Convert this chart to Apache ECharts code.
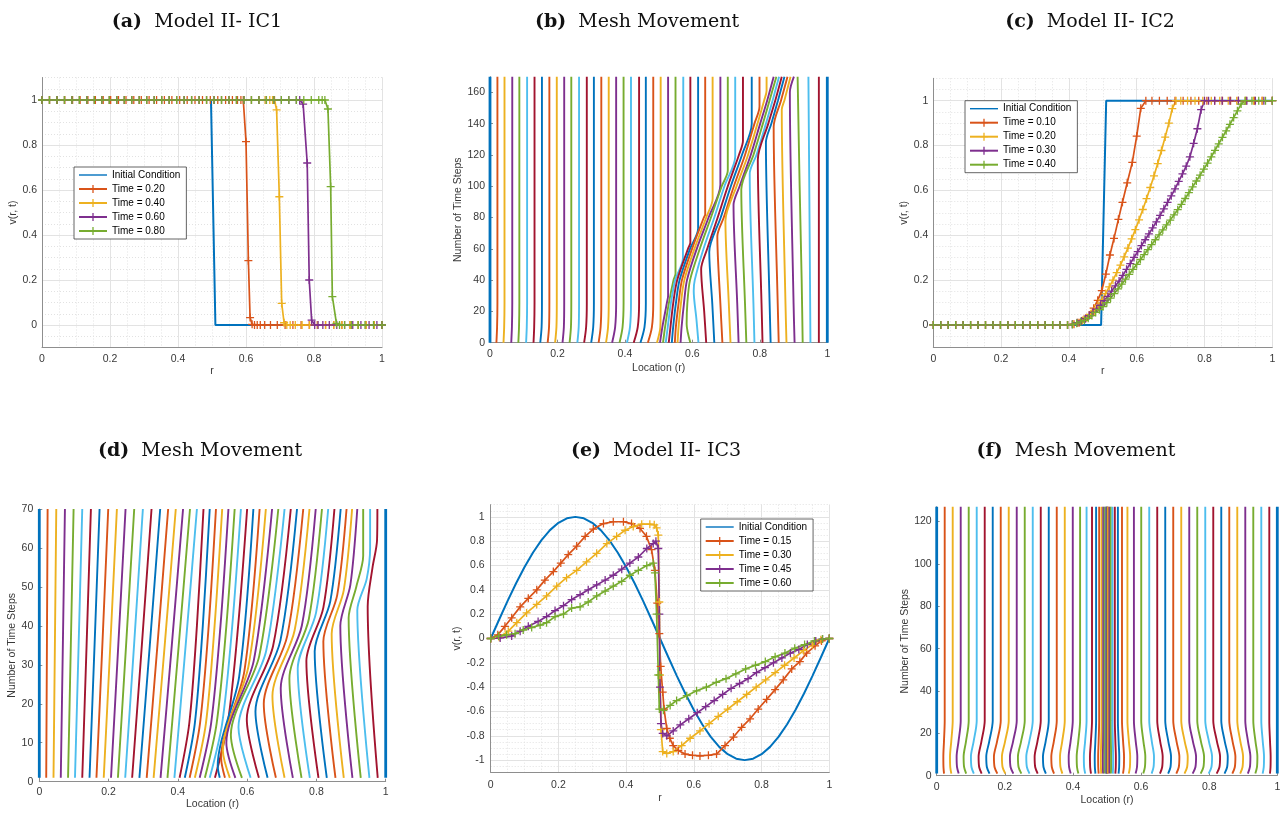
<!DOCTYPE html>
<html><head><meta charset="utf-8">
<script src="https://cdn.jsdelivr.net/npm/echarts@6/dist/echarts.min.js"></script>
<style>html,body{margin:0;padding:0;background:#fff}#c{width:1285px;height:814px}</style>
</head><body><div id="c"></div>
<script>
// ---------------- DATA ----------------
const titles = ['(a)|Model II- IC1','(b)|Mesh Movement','(c)|Model II- IC2','(d)|Mesh Movement','(e)|Model II- IC3','(f)|Mesh Movement'];
const rTicks = [0,0.2,0.4,0.6,0.8,1];

// (a) Model II - IC1
const aIcX = [0,0.497,0.51,1];
const aIcY = [1,1,0,0];
const aT20X = [0,0.022,0.045,0.067,0.09,0.112,0.135,0.157,0.18,0.202,0.225,0.247,0.27,0.292,0.315,0.337,0.36,0.382,0.405,0.427,0.45,0.472,0.495,0.517,0.54,0.56,0.575,0.585,0.592,0.6,0.607,0.612,0.618,0.625,0.633,0.642,0.655,0.672,0.692,0.715,0.738,0.762,0.786,0.81,0.834,0.858,0.882,0.906,0.93,0.953,0.977,1];
const aT20Y = [1,1,1,1,1,1,1,1,1,1,1,1,1,1,1,1,1,1,1,1,1,1,1,1,1,1,1,1,1,0.815,0.286,0.033,0.003,0,0,0,0,0,0,0,0,0,0,0,0,0,0,0,0,0,0,0];
const aT40X = [0,0.022,0.044,0.066,0.088,0.11,0.132,0.154,0.176,0.198,0.22,0.242,0.264,0.286,0.308,0.33,0.352,0.374,0.396,0.418,0.44,0.462,0.484,0.506,0.528,0.55,0.572,0.594,0.616,0.638,0.656,0.67,0.678,0.684,0.69,0.698,0.705,0.712,0.72,0.73,0.745,0.765,0.787,0.81,0.834,0.858,0.882,0.906,0.93,0.953,0.977,1];
const aT40Y = [1,1,1,1,1,1,1,1,1,1,1,1,1,1,1,1,1,1,1,1,1,1,1,1,1,1,1,1,1,1,1,1,1,1,0.956,0.57,0.096,0.01,0,0,0,0,0,0,0,0,0,0,0,0,0,0];
const aT60X = [0,0.022,0.044,0.066,0.088,0.11,0.132,0.154,0.176,0.198,0.22,0.242,0.264,0.286,0.308,0.33,0.352,0.374,0.396,0.418,0.44,0.462,0.484,0.506,0.528,0.55,0.572,0.594,0.616,0.638,0.66,0.682,0.704,0.726,0.748,0.758,0.768,0.78,0.786,0.793,0.802,0.812,0.826,0.845,0.867,0.89,0.914,0.938,0.962,0.985,1];
const aT60Y = [1,1,1,1,1,1,1,1,1,1,1,1,1,1,1,1,1,1,1,1,1,1,1,1,1,1,1,1,1,1,1,1,1,1,1,1,0.982,0.72,0.2,0.022,0,0,0,0,0,0,0,0,0,0,0];
const aT80X = [0,0.022,0.044,0.066,0.088,0.11,0.132,0.154,0.176,0.198,0.22,0.242,0.264,0.286,0.308,0.33,0.352,0.374,0.396,0.418,0.44,0.462,0.484,0.506,0.528,0.55,0.572,0.594,0.616,0.638,0.66,0.682,0.704,0.726,0.748,0.77,0.792,0.814,0.824,0.832,0.841,0.849,0.854,0.866,0.875,0.89,0.91,0.93,0.95,0.975,1];
const aT80Y = [1,1,1,1,1,1,1,1,1,1,1,1,1,1,1,1,1,1,1,1,1,1,1,1,1,1,1,1,1,1,1,1,1,1,1,1,1,1,1,1,0.96,0.615,0.126,0.007,0,0,0,0,0,0,0];

// (c) Model II - IC2
const cFlatX = [0,0.022,0.044,0.066,0.088,0.11,0.132,0.154,0.176,0.198,0.22,0.242,0.264,0.286,0.308,0.33,0.352,0.374,0.396];
const cFlatY = [0,0,0,0,0,0,0,0,0,0,0,0,0,0,0,0,0,0,0];
const cIcX = [0,0.495,0.51,1];
const cIcY = [0,0,1,1];
const cT10X = [0.415,0.43,0.445,0.46,0.473,0.485,0.497,0.509,0.521,0.533,0.546,0.558,0.572,0.587,0.6,0.612,0.627,0.645,0.667,0.69,0.713,0.737,0.76,0.783,0.807,0.83,0.853,0.877,0.9,0.923,0.947,0.97,1];
const cT10Y = [0.003,0.01,0.025,0.045,0.075,0.11,0.153,0.227,0.312,0.386,0.471,0.547,0.634,0.725,0.842,0.966,1,1,1,1,1,1,1,1,1,1,1,1,1,1,1,1,1];
const cT20X = [0.412,0.426,0.44,0.452,0.464,0.475,0.486,0.497,0.508,0.519,0.53,0.541,0.552,0.563,0.574,0.585,0.596,0.607,0.618,0.629,0.64,0.651,0.662,0.673,0.684,0.695,0.705,0.716,0.73,0.75,0.772,0.795,0.82,0.845,0.87,0.895,0.92,0.945,0.97,1];
const cT20Y = [0.004,0.01,0.02,0.032,0.047,0.065,0.087,0.112,0.14,0.17,0.2,0.233,0.267,0.304,0.343,0.384,0.425,0.469,0.515,0.563,0.613,0.665,0.72,0.778,0.838,0.9,0.965,1,1,1,1,1,1,1,1,1,1,1,1,1];
const cT30X = [0.41,0.424,0.437,0.449,0.46,0.471,0.482,0.493,0.504,0.515,0.526,0.537,0.548,0.559,0.57,0.581,0.592,0.603,0.614,0.625,0.636,0.647,0.658,0.669,0.68,0.691,0.702,0.713,0.724,0.735,0.746,0.757,0.768,0.779,0.79,0.8,0.812,0.83,0.852,0.875,0.9,0.925,0.95,0.975,1];
const cT30Y = [0.003,0.01,0.018,0.028,0.042,0.056,0.071,0.088,0.108,0.128,0.151,0.174,0.196,0.221,0.248,0.274,0.301,0.327,0.354,0.38,0.406,0.433,0.46,0.489,0.518,0.547,0.576,0.607,0.64,0.674,0.708,0.75,0.81,0.875,0.96,1,1,1,1,1,1,1,1,1,1];
const cT40X = [0.41,0.423,0.435,0.446,0.457,0.468,0.479,0.49,0.501,0.512,0.523,0.534,0.545,0.556,0.567,0.578,0.589,0.6,0.611,0.622,0.633,0.644,0.655,0.666,0.677,0.688,0.699,0.71,0.721,0.732,0.743,0.754,0.765,0.776,0.787,0.798,0.809,0.82,0.831,0.842,0.853,0.864,0.875,0.886,0.897,0.908,0.92,0.94,0.96,0.98,1];
const cT40Y = [0.002,0.008,0.014,0.021,0.03,0.042,0.056,0.068,0.082,0.1,0.12,0.14,0.161,0.182,0.204,0.226,0.248,0.27,0.292,0.314,0.336,0.358,0.38,0.402,0.424,0.446,0.468,0.491,0.514,0.538,0.564,0.59,0.616,0.642,0.668,0.695,0.722,0.75,0.779,0.808,0.837,0.866,0.895,0.925,0.955,0.985,1,1,1,1,1];

// (e) Model II - IC3
const eIcX = [0,0.025,0.05,0.075,0.1,0.125,0.15,0.175,0.2,0.225,0.25,0.275,0.3,0.325,0.35,0.375,0.4,0.425,0.45,0.475,0.5,0.525,0.55,0.575,0.6,0.625,0.65,0.675,0.7,0.725,0.75,0.775,0.8,0.825,0.85,0.875,0.9,0.925,0.95,0.975,1];
const eIcY = [0,0.156,0.309,0.454,0.588,0.707,0.809,0.891,0.951,0.988,1,0.988,0.951,0.891,0.809,0.707,0.588,0.454,0.309,0.156,0,-0.156,-0.309,-0.454,-0.588,-0.707,-0.809,-0.891,-0.951,-0.988,-1,-0.988,-0.951,-0.891,-0.809,-0.707,-0.588,-0.454,-0.309,-0.156,0];
const eT15X = [0,0.021,0.042,0.062,0.087,0.111,0.136,0.16,0.185,0.207,0.229,0.254,0.279,0.303,0.333,0.362,0.392,0.416,0.441,0.46,0.475,0.485,0.492,0.498,0.502,0.508,0.512,0.52,0.529,0.539,0.554,0.574,0.596,0.618,0.643,0.667,0.692,0.717,0.741,0.766,0.79,0.815,0.84,0.864,0.889,0.913,0.933,0.958,0.977,1];
const eT15Y = [0,0.03,0.1,0.17,0.26,0.33,0.4,0.48,0.55,0.62,0.69,0.76,0.84,0.9,0.945,0.96,0.96,0.945,0.905,0.84,0.73,0.56,0.29,0.04,-0.23,-0.44,-0.58,-0.74,-0.82,-0.88,-0.92,-0.95,-0.96,-0.965,-0.96,-0.95,-0.88,-0.81,-0.73,-0.66,-0.58,-0.5,-0.42,-0.34,-0.25,-0.19,-0.12,-0.06,-0.02,0];
const eT30X = [0,0.025,0.052,0.077,0.106,0.136,0.165,0.195,0.224,0.254,0.283,0.313,0.343,0.372,0.397,0.421,0.446,0.47,0.483,0.49,0.495,0.498,0.5,0.503,0.508,0.52,0.539,0.564,0.589,0.618,0.645,0.672,0.7,0.728,0.756,0.784,0.812,0.84,0.868,0.896,0.924,0.95,0.975,1];
const eT30Y = [0,0.01,0.06,0.13,0.21,0.28,0.35,0.43,0.5,0.56,0.63,0.7,0.78,0.84,0.89,0.92,0.94,0.94,0.935,0.91,0.85,0.3,-0.3,-0.75,-0.93,-0.945,-0.93,-0.88,-0.82,-0.76,-0.7,-0.64,-0.58,-0.52,-0.46,-0.4,-0.34,-0.28,-0.22,-0.16,-0.1,-0.05,-0.01,0];
const eT45X = [0,0.028,0.062,0.087,0.111,0.14,0.165,0.19,0.215,0.239,0.264,0.288,0.313,0.338,0.362,0.387,0.411,0.436,0.461,0.48,0.488,0.495,0.498,0.5,0.503,0.508,0.52,0.539,0.56,0.585,0.61,0.635,0.66,0.685,0.71,0.735,0.76,0.785,0.81,0.835,0.86,0.885,0.91,0.935,0.96,0.98,1];
const eT45Y = [0,0.005,0.02,0.06,0.1,0.14,0.18,0.23,0.27,0.32,0.36,0.4,0.44,0.48,0.52,0.57,0.62,0.67,0.74,0.78,0.8,0.74,0.2,-0.4,-0.7,-0.78,-0.8,-0.76,-0.71,-0.66,-0.61,-0.56,-0.51,-0.46,-0.41,-0.37,-0.33,-0.28,-0.24,-0.2,-0.16,-0.12,-0.09,-0.05,-0.02,-0.005,0];
const eT60X = [0,0.023,0.047,0.072,0.096,0.121,0.146,0.165,0.19,0.215,0.239,0.264,0.288,0.313,0.338,0.362,0.387,0.411,0.436,0.461,0.48,0.485,0.49,0.495,0.498,0.51,0.53,0.549,0.579,0.608,0.637,0.666,0.695,0.724,0.753,0.782,0.811,0.84,0.869,0.898,0.927,0.956,0.98,1];
const eT60Y = [0,0.02,0.03,0.04,0.07,0.09,0.11,0.13,0.18,0.2,0.25,0.26,0.3,0.35,0.39,0.43,0.47,0.52,0.56,0.6,0.62,0.54,0.2,-0.3,-0.58,-0.59,-0.55,-0.51,-0.47,-0.43,-0.4,-0.36,-0.33,-0.29,-0.25,-0.22,-0.19,-0.15,-0.12,-0.08,-0.05,-0.02,-0.005,0];

// (b) mesh for IC1: each line = list of [location r, time step]
const meshB = [
[[0,0],[0,170]],
[[0.019,0],[0.021,10],[0.022,25],[0.022,170]],
[[0.040,0],[0.042,10],[0.043,25],[0.043,170]],
[[0.063,0],[0.065,10],[0.066,25],[0.066,170]],
[[0.084,0],[0.086,10],[0.087,25],[0.087,170]],
[[0.107,0],[0.109,10],[0.110,25],[0.110,170]],
[[0.129,0],[0.131,10],[0.132,25],[0.132,170]],
[[0.149,0],[0.153,10],[0.154,25],[0.154,170]],
[[0.171,0],[0.175,10],[0.176,25],[0.176,170]],
[[0.193,0],[0.197,10],[0.198,25],[0.198,170]],
[[0.215,0],[0.219,10],[0.220,25],[0.220,170]],
[[0.236,0],[0.240,10],[0.241,25],[0.241,170]],
[[0.259,0],[0.263,10],[0.264,25],[0.264,170]],
[[0.279,0],[0.285,10],[0.287,25],[0.287,170]],
[[0.300,0],[0.306,10],[0.308,25],[0.308,170]],
[[0.322,0],[0.328,10],[0.330,25],[0.330,170]],
[[0.344,0],[0.350,10],[0.352,25],[0.352,170]],
[[0.362,0],[0.371,10],[0.374,25],[0.374,170]],
[[0.384,0],[0.393,10],[0.396,25],[0.396,170]],
[[0.406,0],[0.415,10],[0.418,25],[0.418,170]],
[[0.426,0],[0.438,10],[0.442,25],[0.442,170]],
[[0.446,0],[0.458,10],[0.462,25],[0.462,170]],
[[0.468,0],[0.480,10],[0.484,25],[0.484,170]],
[[0.495,0],[0.505,10],[0.506,25],[0.506,170]],
[[0.504,0],[0.511,10],[0.524,25],[0.528,30],[0.528,170]],
[[0.513,0],[0.519,10],[0.530,25],[0.544,40],[0.550,44],[0.550,170]],
[[0.521,0],[0.527,10],[0.536,25],[0.549,40],[0.572,54],[0.573,170]],
[[0.530,0],[0.535,10],[0.543,25],[0.555,40],[0.587,60],[0.594,64],[0.594,170]],
[[0.539,0],[0.543,10],[0.551,25],[0.562,40],[0.593,60],[0.617,73],[0.617,170]],
[[0.548,0],[0.551,10],[0.559,25],[0.569,40],[0.599,60],[0.634,80],[0.638,82],[0.638,170]],
[[0.556,0],[0.559,10],[0.566,25],[0.576,40],[0.606,60],[0.641,80],[0.660,92],[0.660,170]],
[[0.565,0],[0.568,10],[0.575,25],[0.584,40],[0.613,60],[0.648,80],[0.683,101],[0.683,170]],
[[0.594,0],[0.583,12],[0.585,25],[0.593,40],[0.622,60],[0.655,80],[0.687,100],[0.705,110],[0.705,170]],
[[0.618,0],[0.612,15],[0.604,33],[0.607,40],[0.633,60],[0.665,80],[0.695,100],[0.727,119],[0.727,170]],
[[0.641,0],[0.635,20],[0.626,47],[0.644,60],[0.675,80],[0.705,100],[0.738,120],[0.750,129],[0.750,170]],
[[0.665,0],[0.659,25],[0.650,58],[0.684,80],[0.714,100],[0.747,120],[0.776,140],[0.776,170]],
[[0.689,0],[0.683,25],[0.674,68],[0.693,80],[0.723,100],[0.756,120],[0.784,140],[0.799,151],[0.799,170]],
[[0.713,0],[0.708,25],[0.698,78],[0.731,100],[0.765,120],[0.793,140],[0.813,155],[0.820,161],[0.820,170]],
[[0.737,0],[0.733,25],[0.722,88],[0.740,100],[0.773,120],[0.801,140],[0.822,155],[0.841,170]],
[[0.760,0],[0.756,25],[0.745,98],[0.781,120],[0.809,140],[0.829,155],[0.849,170]],
[[0.784,0],[0.781,25],[0.770,108],[0.790,120],[0.818,140],[0.838,155],[0.857,170]],
[[0.808,0],[0.805,25],[0.794,117],[0.825,140],[0.846,155],[0.865,170]],
[[0.832,0],[0.829,25],[0.818,128],[0.834,140],[0.854,155],[0.873,170]],
[[0.856,0],[0.853,25],[0.841,138],[0.863,155],[0.882,170]],
[[0.879,0],[0.876,25],[0.865,149],[0.873,155],[0.891,170]],
[[0.903,0],[0.900,25],[0.889,160],[0.901,170]],
[[0.927,0],[0.924,40],[0.918,100],[0.912,170]],
[[0.950,0],[0.948,60],[0.944,170]],
[[0.975,0],[0.975,170]],
[[1,0],[1,170]]
];

// (d) mesh for IC2
const meshD = [
[[0,1],[0,70]],
[[0.02,1],[0.022,35],[0.024,70]],
[[0.041,1],[0.045,35],[0.049,70]],
[[0.062,1],[0.068,35],[0.074,70]],
[[0.083,1],[0.091,35],[0.099,70]],
[[0.103,1],[0.1135,35],[0.124,70]],
[[0.124,1],[0.1365,35],[0.149,70]],
[[0.145,1],[0.1595,35],[0.174,70]],
[[0.165,1],[0.182,35],[0.199,70]],
[[0.186,1],[0.205,35],[0.224,70]],
[[0.207,1],[0.228,35],[0.249,70]],
[[0.227,1],[0.2505,35],[0.274,70]],
[[0.248,1],[0.2735,35],[0.299,70]],
[[0.268,1],[0.296,35],[0.324,70]],
[[0.289,1],[0.319,35],[0.349,70]],
[[0.31,1],[0.341,35],[0.372,70]],
[[0.33,1],[0.362,35],[0.394,70]],
[[0.35,1],[0.3825,35],[0.415,70]],
[[0.37,1],[0.4025,35],[0.435,70]],
[[0.39,1],[0.4225,35],[0.455,70]],
[[0.405,1],[0.433,15],[0.455,40],[0.474,70]],
[[0.42,1],[0.449,15],[0.472,40],[0.492,70]],
[[0.434,1],[0.464,15],[0.489,40],[0.51,70]],
[[0.449,1],[0.481,15],[0.506,40],[0.528,70]],
[[0.463,1],[0.496,15],[0.523,40],[0.546,70]],
[[0.478,1],[0.512,15],[0.54,40],[0.564,70]],
[[0.492,1],[0.528,15],[0.557,40],[0.582,70]],
[[0.507,1],[0.544,15],[0.574,40],[0.6,70]],
[[0.521,1],[0.515,4],[0.577,27],[0.618,70]],
[[0.536,1],[0.525,6],[0.592,28.4],[0.636,70]],
[[0.55,1],[0.53,8],[0.604,29.7],[0.654,70]],
[[0.566,1],[0.54,10],[0.619,31],[0.672,70]],
[[0.585,1],[0.553,12],[0.635,32.3],[0.69,70]],
[[0.61,1],[0.575,14],[0.655,33.6],[0.708,70]],
[[0.634,1],[0.599,16],[0.675,34.9],[0.726,70]],
[[0.659,1],[0.624,18],[0.696,36.2],[0.744,70]],
[[0.683,1],[0.648,20],[0.716,37.5],[0.762,70]],
[[0.708,1],[0.673,22],[0.737,38.8],[0.78,70]],
[[0.732,1],[0.697,24],[0.758,40.1],[0.798,70]],
[[0.757,1],[0.722,26.5],[0.778,41.7],[0.816,70]],
[[0.781,1],[0.746,29],[0.799,43.4],[0.834,70]],
[[0.806,1],[0.771,31],[0.82,44.7],[0.852,70]],
[[0.83,1],[0.795,33.5],[0.84,46.3],[0.87,70]],
[[0.855,1],[0.82,36],[0.86,47.9],[0.887,70]],
[[0.879,1],[0.844,38],[0.879,49.2],[0.903,70]],
[[0.904,1],[0.869,40],[0.898,50.5],[0.918,70]],
[[0.928,1],[0.893,42],[0.915,50],[0.935,58],[0.935,70]],
[[0.953,1],[0.918,44],[0.945,52],[0.955,60],[0.955,70]],
[[0.977,1],[0.948,45],[0.962,55],[0.975,62],[0.976,70]],
[[1,1],[1,70]]
];

// (f) mesh for IC3: location of each line at these time steps
const meshFSteps = [1,4,9,16,26,127];
const meshF = [
[0,0,0,0,0,0],
[0.0215,0.0199,0.0195,0.0213,0.0235,0.0235],
[0.043,0.0398,0.039,0.0426,0.047,0.047],
[0.0645,0.0597,0.0585,0.0639,0.0705,0.0705],
[0.0865,0.0805,0.079,0.0858,0.094,0.094],
[0.109,0.1022,0.1005,0.1082,0.1175,0.1175],
[0.132,0.1248,0.123,0.1311,0.141,0.141],
[0.155,0.1474,0.1455,0.154,0.1645,0.1645],
[0.178,0.170,0.168,0.177,0.188,0.188],
[0.2015,0.1935,0.1915,0.2005,0.2115,0.2115],
[0.225,0.217,0.215,0.224,0.235,0.235],
[0.2485,0.2405,0.2385,0.2475,0.2585,0.2585],
[0.2725,0.2649,0.263,0.2716,0.282,0.282],
[0.2965,0.2893,0.2875,0.2956,0.3055,0.3055],
[0.3205,0.3137,0.312,0.3197,0.329,0.329],
[0.3445,0.3381,0.3365,0.3437,0.3525,0.3525],
[0.369,0.3634,0.362,0.3683,0.376,0.376],
[0.3935,0.3887,0.3875,0.3929,0.3995,0.3995],
[0.416,0.412,0.411,0.4155,0.421,0.421],
[0.436,0.4328,0.432,0.4356,0.44,0.44],
[0.453,0.4506,0.45,0.4527,0.456,0.456],
[0.466,0.4644,0.464,0.4658,0.468,0.468],
[0.4755,0.4743,0.474,0.4754,0.477,0.477],
[0.483,0.4822,0.482,0.4829,0.484,0.484],
[0.4885,0.4881,0.488,0.4885,0.489,0.489],
[0.493,0.493,0.493,0.493,0.493,0.493],
[0.4965,0.4965,0.4965,0.4965,0.4965,0.4965],
[0.4985,0.4985,0.4985,0.4985,0.4985,0.4985],
[0.5,0.5,0.5,0.5,0.5,0.5],
[0.5015,0.5015,0.5015,0.5015,0.5015,0.5015],
[0.5035,0.5035,0.5035,0.5035,0.5035,0.5035],
[0.507,0.507,0.507,0.507,0.507,0.507],
[0.5115,0.5119,0.512,0.5115,0.511,0.511],
[0.517,0.5178,0.518,0.5171,0.516,0.516],
[0.5245,0.5257,0.526,0.5246,0.523,0.523],
[0.534,0.5356,0.536,0.5342,0.532,0.532],
[0.547,0.5494,0.55,0.5473,0.544,0.544],
[0.564,0.5672,0.568,0.5644,0.56,0.56],
[0.584,0.588,0.589,0.5845,0.579,0.579],
[0.6065,0.6113,0.6125,0.6071,0.6005,0.6005],
[0.631,0.6366,0.638,0.6317,0.624,0.624],
[0.6555,0.6619,0.6635,0.6563,0.6475,0.6475],
[0.6795,0.6863,0.688,0.6803,0.671,0.671],
[0.7035,0.7107,0.7125,0.7044,0.6945,0.6945],
[0.7275,0.7351,0.737,0.7284,0.718,0.718],
[0.7515,0.7595,0.7615,0.7525,0.7415,0.7415],
[0.775,0.783,0.785,0.776,0.765,0.765],
[0.7985,0.8065,0.8085,0.7995,0.7885,0.7885],
[0.822,0.830,0.832,0.823,0.812,0.812],
[0.845,0.8526,0.8545,0.846,0.8355,0.8355],
[0.868,0.8752,0.877,0.8689,0.859,0.859],
[0.891,0.8978,0.8995,0.8918,0.8825,0.8825],
[0.9135,0.9195,0.921,0.9142,0.906,0.906],
[0.9355,0.9403,0.9415,0.9361,0.9295,0.9295],
[0.957,0.9602,0.961,0.9574,0.953,0.953],
[0.9785,0.9801,0.9805,0.9787,0.9765,0.9765],
[1,1,1,1,1,1]
];

// ---------------- STYLE / BUILD ----------------
const PALETTE = ['#0072BD','#D95319','#EDB120','#7E2F8E','#77AC30','#4DBEEE','#A2142F'];
const PLUS = 'path://M4.2,0H5.8V4.2H10V5.8H5.8V10H4.2V5.8H0V4.2H4.2Z';
const LINEICON = 'path://M0,0L0,0M0,4.25L30,4.25L30,5.75L0,5.75ZM30,10L30,10';
const FONT = '"Liberation Sans", Arial, sans-serif';
const TFONT = '"DejaVu Serif", serif';
const AX = '#8e8e8e', LBL = '#383838', MAJOR = '#e3e3e3', MINOR = '#e2e2e2', TR = 'rgba(0,0,0,0)';

const option = {animation:false, backgroundColor:'#ffffff', title:[], grid:[], xAxis:[], yAxis:[], legend:[], series:[]};

function fmt02(v){
  const r = Math.round(v*1000)/1000; const q = r/0.2;
  return Math.abs(q - Math.round(q)) < 1e-6 ? String(Math.round(r*10)/10) : '';
}
function nameStyle(){ return {color:LBL, fontSize:10.5, fontFamily:FONT}; }
function labelStyle(m){ return {color:LBL, fontSize:10.5, fontFamily:FONT, margin:m}; }

function addTitle(i, cx, top){
  const parts = titles[i].split('|');
  option.title.push({text:'{b|'+parts[0]+'}  '+parts[1], left:cx, top:top, textAlign:'center', padding:0,
    textStyle:{fontFamily:TFONT, fontSize:19, fontWeight:'normal', color:'#111',
      rich:{b:{fontFamily:TFONT, fontSize:19, fontWeight:'bold', color:'#111'}}}});
}

function fnPanel(rect, yMin, yMax, g){
  const gi = option.grid.push({left:rect[0], top:rect[1], width:rect[2], height:rect[3]}) - 1;
  const xi = option.xAxis.length, yi = option.yAxis.length;
  option.xAxis.push({type:'value', gridIndex:gi, min:rTicks[0], max:rTicks[rTicks.length-1], interval:0.2, position:'bottom',
    axisLine:{show:true, onZero:false, lineStyle:{color:AX, width:1}}, axisTick:{show:false},
    axisLabel:labelStyle(g.xm), splitLine:{show:true, lineStyle:{color:MAJOR, width:1}},
    name:'r', nameLocation:'middle', nameGap:g.xn, nameTextStyle:nameStyle()});
  option.xAxis.push({type:'value', gridIndex:gi, min:0, max:1, interval:0.05, position:'top',
    axisLine:{show:false}, axisTick:{show:false}, axisLabel:{show:false},
    splitLine:{show:true, lineStyle:{color:MINOR, width:1, type:[1,2]}}});
  option.yAxis.push({type:'value', gridIndex:gi, min:yMin, max:yMax, interval:0.05, position:'left',
    axisLine:{show:true, onZero:false, lineStyle:{color:AX, width:1}}, axisTick:{show:false},
    axisLabel:Object.assign(labelStyle(g.ym), {formatter:fmt02}),
    splitLine:{show:true, showMinLine:true, showMaxLine:true, lineStyle:{color:[TR,TR,MAJOR,TR], width:1}},
    name:'v(r, t)', nameLocation:'middle', nameGap:g.yn, nameTextStyle:nameStyle()});
  option.yAxis.push({type:'value', gridIndex:gi, min:yMin, max:yMax, interval:0.05, position:'right',
    axisLine:{show:false}, axisTick:{show:false}, axisLabel:{show:false},
    splitLine:{show:true, showMinLine:true, showMaxLine:true, lineStyle:{color:MINOR, width:1, type:[1,2]}}});
  return {xi, yi};
}

function meshPanel(rect, yMax, yInt, showMax, g){
  const gi = option.grid.push({left:rect[0], top:rect[1], width:rect[2], height:rect[3]}) - 1;
  const xi = option.xAxis.length, yi = option.yAxis.length;
  option.xAxis.push({type:'value', gridIndex:gi, min:0, max:1, interval:0.2, position:'bottom',
    axisLine:{show:true, onZero:false, lineStyle:{color:AX, width:1}},
    axisTick:{show:true, inside:true, length:3, lineStyle:{color:AX}},
    axisLabel:labelStyle(g.xm), splitLine:{show:false},
    name:'Location (r)', nameLocation:'middle', nameGap:g.xn, nameTextStyle:nameStyle()});
  option.yAxis.push({type:'value', gridIndex:gi, min:0, max:yMax, interval:yInt, position:'left',
    axisLine:{show:true, onZero:false, lineStyle:{color:AX, width:1}},
    axisTick:{show:true, inside:true, length:3, lineStyle:{color:AX}},
    axisLabel:Object.assign(labelStyle(g.ym), {showMaxLabel:showMax}), splitLine:{show:false},
    name:'Number of Time Steps', nameLocation:'middle', nameGap:g.yn, nameTextStyle:nameStyle()});
  return {xi, yi};
}

function addMesh(lines, ax){
  lines.forEach(function(pts, k){
    const edge = (k === 0 || k === lines.length - 1);
    option.series.push({type:'line', xAxisIndex:ax.xi, yAxisIndex:ax.yi, data:pts, symbol:'none', showSymbol:false,
      smooth:0.3, clip:false, silent:true, emphasis:{disabled:true},
      lineStyle:{color:PALETTE[k%7], width: edge ? 2.8 : 1.9}, itemStyle:{color:PALETTE[k%7]}});
  });
}

function addCurve(name, xs, ys, colorIdx, markers, ax){
  const color = PALETTE[colorIdx];
  option.series.push({type:'line', name:name, xAxisIndex:ax.xi, yAxisIndex:ax.yi,
    data: xs.map(function(x,i){ return [x, ys[i]]; }),
    symbol: markers ? PLUS : 'none', symbolSize:8, showSymbol:markers, showAllSymbol:true, symbolKeepAspect:true,
    clip:false, silent:true, emphasis:{disabled:true},
    lineStyle:{color:color, width: markers ? 1.7 : 2}, itemStyle:{color:color, borderWidth:0}});
}

function addLegend(left, top, names){
  option.legend.push({orient:'vertical', left:left, top:top, selectedMode:false,
    itemWidth:28, itemHeight:10, itemGap:4, padding:[3,6,3,4],
    backgroundColor:'#ffffff', borderColor:'#3c3c3c', borderWidth:0.8, borderRadius:0,
    textStyle:{color:'#000', fontSize:10, fontFamily:FONT}, formatter:function(n){ return n.slice(2); },
    data: names.map(function(n, i){ return i === 0 ? {name:n, icon:LINEICON} : {name:n}; })});
}

// titles
addTitle(0, 197, 13); addTitle(1, 637, 13); addTitle(2, 1090, 13);
addTitle(3, 200, 442); addTitle(4, 656, 442); addTitle(5, 1076, 442);

// (a)
const axA = fnPanel([42, 77.5, 340, 270], -0.1, 1.1, {xm:6, xn:18, ym:5, yn:22});
addCurve('a|Initial Condition', aIcX, aIcY, 0, false, axA);
addCurve('a|Time = 0.20', aT20X, aT20Y, 1, true, axA);
addCurve('a|Time = 0.40', aT40X, aT40Y, 2, true, axA);
addCurve('a|Time = 0.60', aT60X, aT60Y, 3, true, axA);
addCurve('a|Time = 0.80', aT80X, aT80Y, 4, true, axA);
addLegend(74, 167, ['a|Initial Condition','a|Time = 0.20','a|Time = 0.40','a|Time = 0.60','a|Time = 0.80']);

// (b)
const axB = meshPanel([490, 76.7, 337.3, 266], 170, 20, false, {xm:6, xn:20, ym:5, yn:25});
addMesh(meshB, axB);

// (c)
const axC = fnPanel([933.3, 78.3, 339, 269.1], -0.1, 1.1, {xm:6, xn:18, ym:5, yn:23});
addCurve('c|Initial Condition', cIcX, cIcY, 0, false, axC);
addCurve('c|Time = 0.10', cFlatX.concat(cT10X), cFlatY.concat(cT10Y), 1, true, axC);
addCurve('c|Time = 0.20', cFlatX.concat(cT20X), cFlatY.concat(cT20Y), 2, true, axC);
addCurve('c|Time = 0.30', cFlatX.concat(cT30X), cFlatY.concat(cT30Y), 3, true, axC);
addCurve('c|Time = 0.40', cFlatX.concat(cT40X), cFlatY.concat(cT40Y), 4, true, axC);
addLegend(965, 100.7, ['c|Initial Condition','c|Time = 0.10','c|Time = 0.20','c|Time = 0.30','c|Time = 0.40']);

// (d)
const axD = meshPanel([39.3, 509, 346.4, 272.7], 70, 10, true, {xm:5, xn:17, ym:6, yn:19});
addMesh(meshD, axD);

// (e)
const axE = fnPanel([490.7, 504.7, 338.6, 267.6], -1.1, 1.1, {xm:7, xn:20, ym:6, yn:27});
addCurve('e|Initial Condition', eIcX, eIcY, 0, false, axE);
addCurve('e|Time = 0.15', eT15X, eT15Y, 1, true, axE);
addCurve('e|Time = 0.30', eT30X, eT30Y, 2, true, axE);
addCurve('e|Time = 0.45', eT45X, eT45Y, 3, true, axE);
addCurve('e|Time = 0.60', eT60X, eT60Y, 4, true, axE);
addLegend(700.7, 519, ['e|Initial Condition','e|Time = 0.15','e|Time = 0.30','e|Time = 0.45','e|Time = 0.60']);

// (f)
const axF = meshPanel([936.7, 506.7, 340.6, 269], 127, 20, false, {xm:6, xn:19, ym:5, yn:24});
addMesh(meshF.map(function(row){ return row.map(function(x, j){ return [x, meshFSteps[j]]; }); }), axF);

const chart = echarts.init(document.getElementById('c'), null, {renderer:'canvas'});
chart.setOption(option);
</script>
</body></html>
